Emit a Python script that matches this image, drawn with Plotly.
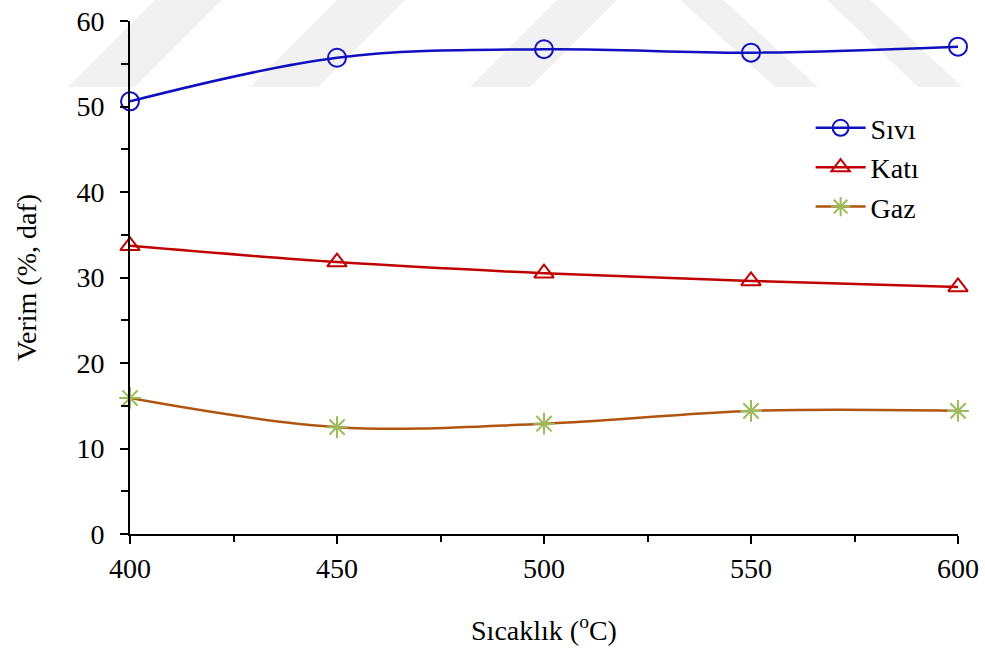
import plotly.graph_objects as go

temps = [400, 450, 500, 550, 600]
sivi = [50.6, 55.7, 56.7, 56.3, 57.0]
kati = [33.7, 31.8, 30.5, 29.6, 28.9]
gaz = [15.9, 12.5, 12.9, 14.4, 14.4]

FONT = "Liberation Serif, Times New Roman, serif"
FS = 28

fig = go.Figure()
fig.add_trace(go.Scatter(
    x=temps, y=sivi, name="Sıvı", mode="lines+markers", line_shape="spline",
    line=dict(color="#1010C0", width=2.5), legendgroup="a",
    marker=dict(symbol="circle-open", size=18, color="#1010C0", line=dict(width=2)),
    cliponaxis=False))
fig.add_trace(go.Scatter(
    x=temps, y=kati, name="Katı", mode="lines+markers", line_shape="spline",
    line=dict(color="#C00000", width=2.5), legendgroup="b",
    marker=dict(symbol="triangle-up-open", size=17, color="#C00000", line=dict(width=2)),
    cliponaxis=False))
fig.add_trace(go.Scatter(
    x=temps, y=gaz, name="Gaz", mode="lines+markers", line_shape="spline",
    line=dict(color="#B05510", width=2.5), legendgroup="c",
    marker=dict(symbol="asterisk-open", size=18, color="#9BBB59", line=dict(width=2, color="#9BBB59")),
    cliponaxis=False))

# watermark-like background stripes (pixel -> paper conversion)
L, R, T, B = 130, 958, 21, 534
def px(x):
    return (x - L) / (R - L)
def py(y):
    return (B - y) / (B - T)
stripes = [
    [(68, 87), (135, 87), (227, -5), (160, -5)],
    [(250, 87), (318, 87), (410, -5), (342, -5)],
    [(470, 87), (530, 87), (622, -5), (562, -5)],
    [(775, 87), (818, 87), (718, -5), (675, -5)],
    [(918, 87), (962, 87), (865, -5), (822, -5)],
]
shapes = []
for s in stripes:
    path = "M " + " L ".join(f"{px(a):.4f},{py(b):.4f}" for a, b in s) + " Z"
    shapes.append(dict(type="path", xref="paper", yref="paper", path=path,
                       fillcolor="#F1F1F1", line=dict(width=0), layer="below"))

fig.update_layout(
    width=985, height=649,
    margin=dict(l=130, r=27, t=21, b=115, autoexpand=False),
    paper_bgcolor="white", plot_bgcolor="white",
    font=dict(family=FONT, size=FS, color="black"),
    shapes=shapes,
    showlegend=True,
    legend=dict(x=0.822, y=0.84, xanchor="left", yanchor="top",
                bgcolor="rgba(0,0,0,0)", font=dict(size=FS, family=FONT),
                tracegroupgap=0, itemwidth=50),
    xaxis=dict(range=[400, 600], dtick=50, tick0=400, showgrid=False, zeroline=False,
               automargin=False,
               showline=True, linecolor="black", linewidth=2,
               tickfont=dict(size=FS, family=FONT),
               ticks="outside", ticklen=8, tickwidth=2, tickcolor="black",
               minor=dict(dtick=25, ticks="outside", ticklen=6, tickwidth=2, tickcolor="black", showgrid=False),
               title=dict(text="Sıcaklık (<sup>o</sup>C)", standoff=38, font=dict(size=FS, family=FONT))),
    yaxis=dict(range=[0, 60], dtick=10, showgrid=False, zeroline=False,
               automargin=False, ticklabelstandoff=10,
               showline=True, linecolor="black", linewidth=2,
               tickfont=dict(size=FS, family=FONT),
               ticks="outside", ticklen=8, tickwidth=2, tickcolor="black",
               minor=dict(dtick=5, ticks="outside", ticklen=7, tickwidth=2, tickcolor="black", showgrid=False),
               title=dict(text="Verim (%, daf)", standoff=32, font=dict(size=FS, family=FONT))),
)

fig.write_html("out.html")
